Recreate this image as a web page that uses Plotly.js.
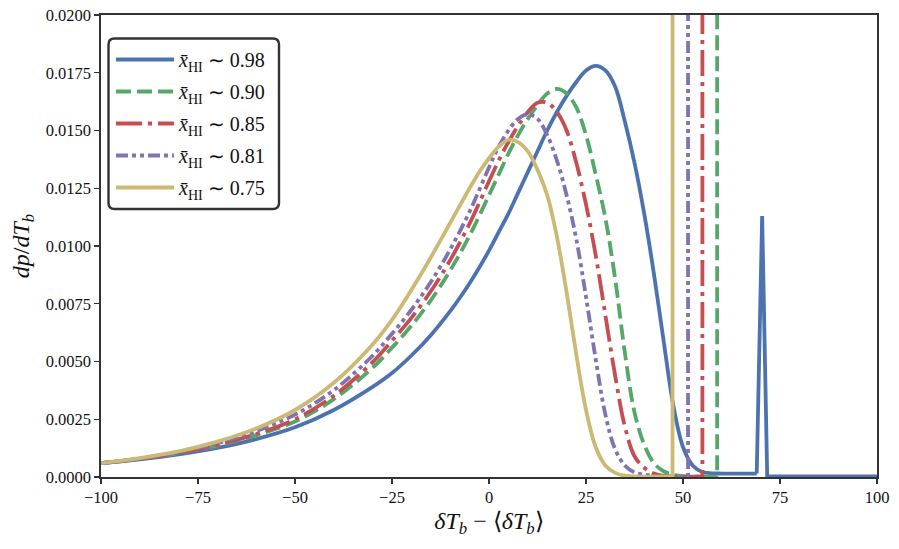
<!DOCTYPE html>
<html>
<head>
<meta charset="utf-8">
<script src="https://cdn.plot.ly/plotly-3.0.1.min.js"></script>
<style>html,body{margin:0;padding:0;background:#fff;}#chart{width:899px;height:549px;}</style>
</head>
<body>
<div id="chart"></div>
<script>
// ---- data ----
const labels = ["0.98", "0.90", "0.85", "0.81", "0.75"];

const x098 = [-100,-90,-80,-70,-60,-50,-40,-30,-25,-20,-15,-10,-7.5,-5,-2.5,0,2.5,5,7.5,10,12.5,15,17.5,20,22.5,25,27.5,30,32.5,35,37.5,40,42.5,45,47.5,50,52.5,55,57.5,60,65,69];
const y098 = [0.0006,0.00076,0.00098,0.00126,0.00164,0.00215,0.0029,0.0039,0.0045,0.00526,0.00614,0.00718,0.00776,0.00839,0.00907,0.0098,0.0106,0.0114,0.0123,0.0132,0.0141,0.0150,0.0158,0.0165,0.0171,0.0176,0.0178,0.0176,0.0169,0.0154,0.0136,0.0114,0.0088,0.0059,0.0031,0.0013,0.0005,0.00022,0.00016,0.00015,0.00015,0.00015];
const xSpike098 = [69,70.4,71.7,100];
const ySpike098 = [0.00015,0.0113,0.00003,0.00003];

const x090 = [-100,-90,-80,-70,-60,-50,-40,-30,-25,-20,-15,-10,-5,0,2.5,5,7.5,10,12.5,15,17.5,20,22.5,25,27.5,30,32.5,35,37.5,40,42.5,45,47.5,50,55];
const y090 = [0.0006,0.00079,0.00103,0.00136,0.00181,0.0024,0.00337,0.00473,0.0056,0.00655,0.00765,0.00894,0.01045,0.0122,0.0131,0.0140,0.0148,0.0155,0.0161,0.0166,0.0168,0.0166,0.0160,0.0148,0.0131,0.0112,0.0086,0.0054,0.0028,0.0014,0.0006,0.00025,0.0001,0.00004,0.00002];
const xSpike090 = [55,58.8,58.8];
const ySpike090 = [0.00002,0.00002,0.05];

const x085 = [-100,-90,-80,-70,-60,-50,-40,-30,-25,-20,-15,-10,-5,0,2.5,5,7.5,10,12.5,15,17.5,20,22.5,25,27.5,30,32.5,35,37.5,40,42.5,45,50];
const y085 = [0.0006,0.00079,0.00104,0.00139,0.00186,0.0025,0.00352,0.00497,0.0059,0.00689,0.00804,0.00939,0.01097,0.0128,0.0137,0.0145,0.0152,0.0158,0.0162,0.0162,0.0158,0.0150,0.0136,0.0118,0.0096,0.0070,0.0044,0.0022,0.0009,0.0004,0.00015,0.00005,0.00002];
const xSpike085 = [50,55.0,55.0];
const ySpike085 = [0.00002,0.00002,0.05];

const x081 = [-100,-90,-80,-70,-60,-50,-40,-30,-25,-20,-15,-10,-5,0,2.5,5,7.5,10,12.5,15,17.5,20,22.5,25,27.5,30,32.5,35,37.5,40,45];
const y081 = [0.0006,0.0008,0.00108,0.00146,0.00199,0.0027,0.00376,0.00525,0.0062,0.00724,0.00844,0.00985,0.01149,0.0134,0.0143,0.0150,0.0155,0.0157,0.0155,0.0148,0.0137,0.0122,0.0103,0.0078,0.0051,0.0027,0.0012,0.0005,0.0002,0.0001,0.00002];
const xSpike081 = [45,51.3,51.3];
const ySpike081 = [0.00002,0.00002,0.05];

const x075 = [-100,-90,-80,-70,-60,-50,-40,-30,-25,-20,-15,-10,-5,-2.5,0,2.5,5,7.5,10,12.5,15,17.5,20,22.5,25,27.5,30,32.5,35,40];
const y075 = [0.0006,0.00082,0.00111,0.00153,0.0021,0.0029,0.00408,0.00574,0.0068,0.0081,0.0095,0.0110,0.0125,0.0132,0.0138,0.0143,0.0146,0.0145,0.0141,0.0133,0.0122,0.0104,0.0080,0.0053,0.0029,0.0013,0.0005,0.00018,0.00006,0.00002];
const xSpike075 = [40,47.3,47.3];
const ySpike075 = [0.00002,0.00002,0.05];

const yTicks = [0,0.0025,0.005,0.0075,0.01,0.0125,0.015,0.0175,0.02];
const xTicks = [-100,-75,-50,-25,0,25,50,75,100];

// ---- styling ----
const colors = ["#4C72B0","#55A868","#C44E52","#8172B2","#CCB974"];
const dashes = ["solid","15px,6px","26px,6px,4px,6px","12px,4px,4px,4px,4px,4px","solid"];
const bodies = [[x098,y098],[x090,y090],[x085,y085],[x081,y081],[x075,y075]];
const spikes = [[xSpike098,ySpike098],[xSpike090,ySpike090],[xSpike085,ySpike085],[xSpike081,ySpike081],[xSpike075,ySpike075]];
const LW = 3.8;

const traces = [];
for (let i = 0; i < labels.length; i++) {
  traces.push({
    x: bodies[i][0], y: bodies[i][1], type: "scatter", mode: "lines",
    name: "<i>x\u0304</i><sub>HI</sub> \u223C " + labels[i],
    legendgroup: "g" + i,
    line: {color: colors[i], width: LW, dash: dashes[i], shape: "spline", smoothing: 1},
    hoverinfo: "skip"
  });
  traces.push({
    x: spikes[i][0], y: spikes[i][1], type: "scatter", mode: "lines",
    showlegend: false, legendgroup: "g" + i,
    line: {color: colors[i], width: LW, dash: dashes[i]},
    hoverinfo: "skip"
  });
}

// rounded legend frame (paper coords)
const L = 101, R = 877, T = 15, B = 477;
function px2x(p){ return (p - L) / (R - L); }
function py2y(p){ return (B - p) / (B - T); }
const bx0 = px2x(108.5), bx1 = px2x(279), by1 = py2y(38.5), by0 = py2y(209);
const rx = 6 / (R - L), ry = 6 / (B - T);
const framePath = `M${bx0+rx},${by1} L${bx1-rx},${by1} Q${bx1},${by1} ${bx1},${by1-ry} L${bx1},${by0+ry} Q${bx1},${by0} ${bx1-rx},${by0} L${bx0+rx},${by0} Q${bx0},${by0} ${bx0},${by0+ry} L${bx0},${by1-ry} Q${bx0},${by1} ${bx0+rx},${by1} Z`;

const serif = "Liberation Serif";
const axisCommon = {
  showline: true, linecolor: "#333333", linewidth: 1.6, mirror: true,
  ticks: "outside", ticklen: 5, tickwidth: 1.2, tickcolor: "#333333",
  showgrid: false, zeroline: false,
  tickfont: {family: serif, size: 16.5, color: "#111"}
};

const layout = {
  width: 899, height: 549,
  margin: {l: L, r: 899 - R, t: T, b: 549 - B},
  paper_bgcolor: "#ffffff", plot_bgcolor: "#ffffff",
  font: {family: serif, color: "#111"},
  xaxis: Object.assign({}, axisCommon, {
    range: [-100, 100], tickvals: xTicks,
    title: {text: "<i>\u03B4T</i><sub><i>b</i></sub> \u2212 \u27E8<i>\u03B4T</i><sub><i>b</i></sub>\u27E9", font: {family: serif, size: 24, color: "#111"}, standoff: 6}
  }),
  yaxis: Object.assign({}, axisCommon, {
    range: [0, 0.02], tickvals: yTicks, tickformat: ".4f",
    title: {text: "<i>dp</i>/<i>dT</i><sub><i>b</i></sub>", font: {family: serif, size: 24, color: "#111"}, standoff: 9}
  }),
  showlegend: true,
  legend: {
    x: px2x(111), y: py2y(40), xanchor: "left", yanchor: "top",
    bgcolor: "rgba(0,0,0,0)", borderwidth: 0,
    font: {family: serif, size: 20, color: "#111"},
    itemwidth: 58,
    tracegroupgap: 3
  },
  shapes: [{
    type: "path", xref: "paper", yref: "paper", path: framePath,
    fillcolor: "#ffffff", line: {color: "#333333", width: 2.4}, layer: "above"
  }]
};

Plotly.newPlot("chart", traces, layout, {staticPlot: true, displayModeBar: false});
</script>
</body>
</html>
